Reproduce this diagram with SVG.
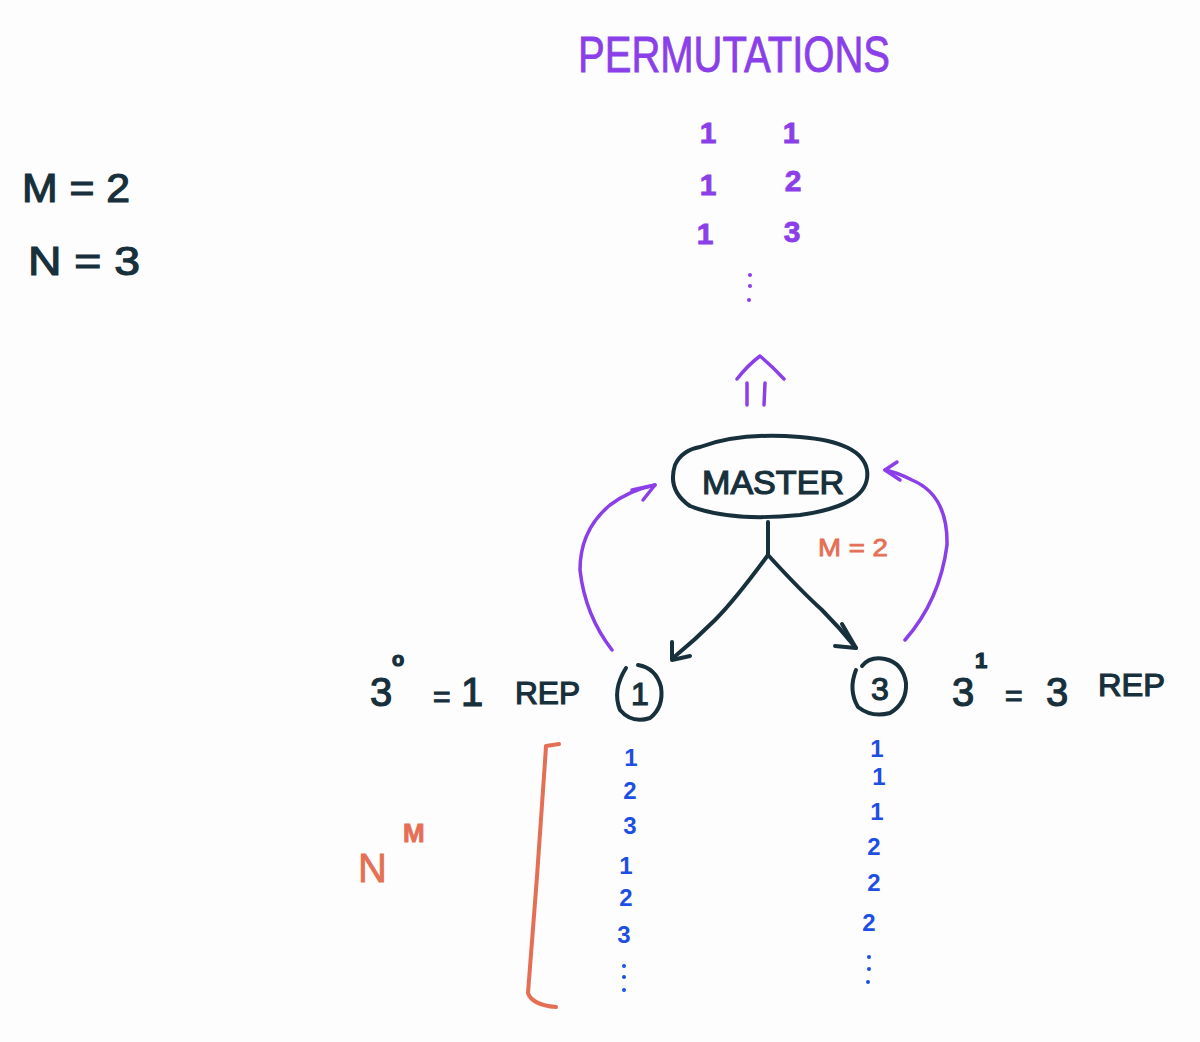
<svg xmlns="http://www.w3.org/2000/svg" width="1200" height="1042" viewBox="0 0 1200 1042">
<defs>
<style>
.ink{fill:#17303b;stroke:#17303b;stroke-width:1.2;font-family:"Liberation Sans",Arial,sans-serif}
.pur{fill:#8b3fe8;stroke:#8b3fe8;stroke-width:0.8;font-family:"Liberation Sans",Arial,sans-serif}
.org{fill:#e56f55;stroke:#e56f55;stroke-width:0.8;font-family:"Liberation Sans",Arial,sans-serif}
.b{font-weight:bold}
.blu{fill:#1d4fe3;font-family:"Liberation Sans",Arial,sans-serif;font-weight:bold;font-size:24px;text-anchor:middle}
.line{fill:none;stroke:#17303b;stroke-width:4;stroke-linecap:round;stroke-linejoin:round}
.pline{fill:none;stroke:#8b3fe8;stroke-width:3.5;stroke-linecap:round;stroke-linejoin:round}
.oline{fill:none;stroke:#e56f55;stroke-width:4;stroke-linecap:round;stroke-linejoin:round}
</style>
</defs>
<rect width="1200" height="1042" fill="#fdfdfe"/>

<g id="title">
<text class="pur" x="578" y="72" font-size="50" textLength="312" lengthAdjust="spacingAndGlyphs">PERMUTATIONS</text>
</g>

<g id="params">
<text class="ink" x="22" y="202" font-size="40" textLength="108" lengthAdjust="spacingAndGlyphs">M = 2</text>
<text class="ink" x="28" y="275" font-size="40" textLength="112" lengthAdjust="spacingAndGlyphs">N = 3</text>
</g>

<g id="permutations">
<text class="pur b" x="708" y="143" font-size="30" text-anchor="middle">1</text>
<text class="pur b" x="708" y="195" font-size="30" text-anchor="middle">1</text>
<text class="pur b" x="705" y="244" font-size="30" text-anchor="middle">1</text>
<text class="pur b" x="791" y="143" font-size="30" text-anchor="middle">1</text>
<text class="pur b" x="793" y="191" font-size="30" text-anchor="middle">2</text>
<text class="pur b" x="792" y="242" font-size="30" text-anchor="middle">3</text>
<circle cx="750" cy="275" r="2" fill="#8b3fe8"/>
<circle cx="750" cy="286" r="2" fill="#8b3fe8"/>
<circle cx="749" cy="300" r="2" fill="#8b3fe8"/>
</g>

<g id="up-arrow">
<path class="pline" d="M737 379 Q748 365 760 356 Q772 366 784 379"/>
<path class="pline" d="M747 383 L747 405 M765 383 L764 405" stroke-width="4.5"/>
</g>

<g id="master">
<path class="line" d="M700 447 Q740 432 800 437 Q862 442 867 470 Q872 505 800 515 Q730 522 690 506 Q667 490 675 465 Q682 450 700 447"/>
<text class="ink" x="773" y="494" font-size="33" text-anchor="middle" textLength="142" lengthAdjust="spacingAndGlyphs">MASTER</text>
</g>

<g id="node1">
<path class="line" d="M626 668 Q612 690 620 710 Q632 724 650 718 Q664 707 661 687 Q656 668 638 665"/>
<text class="ink" x="640" y="705" font-size="32" text-anchor="middle">1</text>
</g>

<g id="node3">
<path class="line" d="M856 670 Q848 690 858 707 Q872 718 890 713 Q907 703 906 683 Q903 663 885 659 Q870 656 862 666"/>
<text class="ink" x="880" y="700" font-size="32" text-anchor="middle">3</text>
</g>

<g id="connectors">
<path class="line" d="M768 522 L768 555"/>
<path class="line" d="M768 555 Q735 600 715 620 Q695 640 673 658"/>
<path class="line" d="M672 642 L672 660 L690 656"/>
<path class="line" d="M768 555 Q800 590 822 610 Q840 628 856 648"/>
<path class="line" d="M842 624 L856 648 L835 646"/>
<path class="pline" d="M612 650 Q585 615 580 570 Q580 530 610 505 Q630 490 655 485"/>
<path class="pline" d="M632 490 L655 485 L643 500"/>
<path class="pline" d="M905 640 Q940 600 947 545 Q948 495 912 480 Q896 472 885 470"/>
<path class="pline" d="M897 462 L885 470 L900 480"/>
</g>

<g id="m-label">
<text class="org" x="818" y="556" font-size="24" textLength="70" lengthAdjust="spacingAndGlyphs">M = 2</text>
</g>

<g id="label-left">
<text class="ink" x="370" y="706" font-size="40">3</text>
<text class="ink b" x="392" y="666" font-size="20">o</text>
<text class="ink" x="433" y="707" font-size="30">=</text>
<text class="ink" x="461" y="706" font-size="40">1</text>
<text class="ink" x="515" y="704" font-size="32" textLength="65" lengthAdjust="spacingAndGlyphs">REP</text>
</g>

<g id="label-right">
<text class="ink" x="952" y="706" font-size="40">3</text>
<text class="ink b" x="975" y="668" font-size="22">1</text>
<text class="ink" x="1005" y="706" font-size="30">=</text>
<text class="ink" x="1046" y="706" font-size="40">3</text>
<text class="ink" x="1098" y="696" font-size="32" textLength="67" lengthAdjust="spacingAndGlyphs">REP</text>
</g>

<g id="bracket">
<path class="oline" d="M559 744 L546 746 Q538 870 528 993 Q532 1005 556 1007"/>
<text class="org" x="358" y="882" font-size="40">N</text>
<text class="org b" x="403" y="842" font-size="26">M</text>
</g>

<g id="column-left">
<text class="blu" x="631" y="766">1</text>
<text class="blu" x="630" y="799">2</text>
<text class="blu" x="630" y="834">3</text>
<text class="blu" x="626" y="874">1</text>
<text class="blu" x="626" y="906">2</text>
<text class="blu" x="624" y="943">3</text>
<circle cx="624" cy="966" r="2" fill="#1d4fe3"/>
<circle cx="624" cy="977" r="2" fill="#1d4fe3"/>
<circle cx="624" cy="990" r="2" fill="#1d4fe3"/>
</g>

<g id="column-right">
<text class="blu" x="877" y="757">1</text>
<text class="blu" x="879" y="785">1</text>
<text class="blu" x="877" y="820">1</text>
<text class="blu" x="874" y="855">2</text>
<text class="blu" x="874" y="891">2</text>
<text class="blu" x="869" y="931">2</text>
<circle cx="869" cy="957" r="2" fill="#1d4fe3"/>
<circle cx="869" cy="969" r="2" fill="#1d4fe3"/>
<circle cx="868" cy="982" r="2" fill="#1d4fe3"/>
</g>
</svg>
